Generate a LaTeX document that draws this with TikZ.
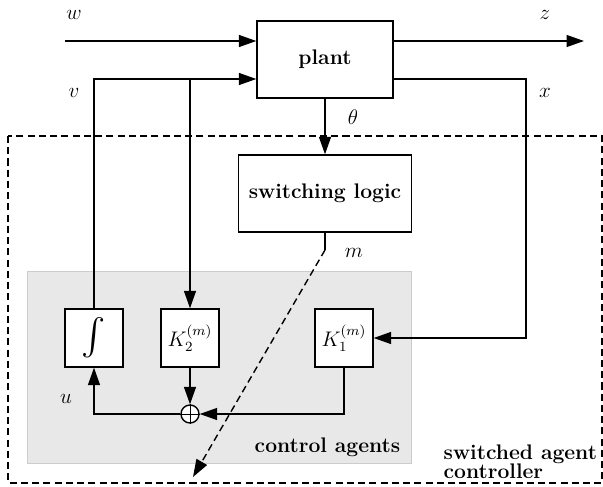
\documentclass[tikz,border=0pt]{standalone}
\usepackage{amsmath,amssymb}
\usepackage{tikz}
\usetikzlibrary{positioning,calc,arrows.meta}

\begin{document}
\begin{tikzpicture}[x=0.02cm, y=-0.02cm, thick,
        block/.style={draw, rectangle, fill=white, minimum height=1.54cm, align=center, font=\large\bfseries},
        gain/.style={draw, rectangle, fill=white, minimum width=1.16cm, minimum height=1.16cm, font=\large},
        sumnode/.style={draw, circle, fill=white, inner sep=0pt, minimum size=0.36cm},
        lbl/.style={font=\large},
        frame/.style={dash pattern=on 4pt off 2.4pt},
        >={Triangle[length=3.5mm,width=2.4mm]}
    ]
        \useasboundingbox (0,0) rectangle (603,487);

        % controller frames
        \draw [frame] (8,136) rectangle (602,483);
        \draw [fill=gray!18, draw=gray!40, thin] (27,271) rectangle (411,463);

        \node [block, minimum width=2.72cm] (plant) at (325,59.5) {plant};
        \node [block, minimum width=3.46cm] (logic) at (325,193.5) {switching logic};
        \node [gain] (integ) at (94,338) {\huge$\int$};
        \node [gain] (ktwo) at (190,338) {$K_2^{(m)}$};
        \node [gain] (kone) at (344,338) {$K_1^{(m)}$};
        \node [sumnode] (sum) at (190,414) {};
        \draw [thin] (sum.north) -- (sum.south) (sum.west) -- (sum.east);

        \coordinate (win) at (65,41);
        \coordinate (zout) at (584,41);
        \coordinate (vrow) at (0,79);
        \coordinate (xc) at (526,79);
        \coordinate (mbend) at (325,250);
        \coordinate (mtip) at (193,477);

        \draw [->] (win) -- (win -| plant.west);
        \draw [->] (plant.east |- win) -- (zout);
        \draw [->] (integ.north) -- (integ.north |- vrow) -- (vrow -| plant.west);
        \draw [->] (ktwo.north |- vrow) -- (ktwo.north);
        \draw [->] (plant.east |- xc) -- (xc) |- (kone.east);
        \draw [->] (plant.south) -- (logic.north);
        \draw (logic.south) -- (mbend);
        \draw [->, frame] (mbend) -- (mtip);
        \draw [->] (ktwo.south) -- (sum.north);
        \draw [->] (kone.south) |- (sum.east);
        \draw [->] (sum.west) -| (integ.south);

        % signal labels
        \node [lbl] (wlab) at (74,15) {$w$};
        \node [lbl] (zlab) at (545,15) {$z$};
        \node [lbl] (vlab) at (74,93) {$v$};
        \node [lbl] (xlab) at (545,93) {$x$};
        \node [lbl] (thlab) at (353,117) {$\theta$};
        \node [lbl] (mlab) at (354,253) {$m$};
        \node [lbl] (ulab) at (66,399) {$u$};

        \node [font=\large\bfseries, anchor=base east, inner sep=0pt] (agents) at (401,452) {control agents};
        \node [font=\large\bfseries, anchor=base west, inner sep=0pt] (ctrl1) at (443,459) {switched agent};
        \node [font=\large\bfseries, anchor=base west, inner sep=0pt] (ctrl2) at (443,478) {controller};
    \end{tikzpicture}
\end{document}
